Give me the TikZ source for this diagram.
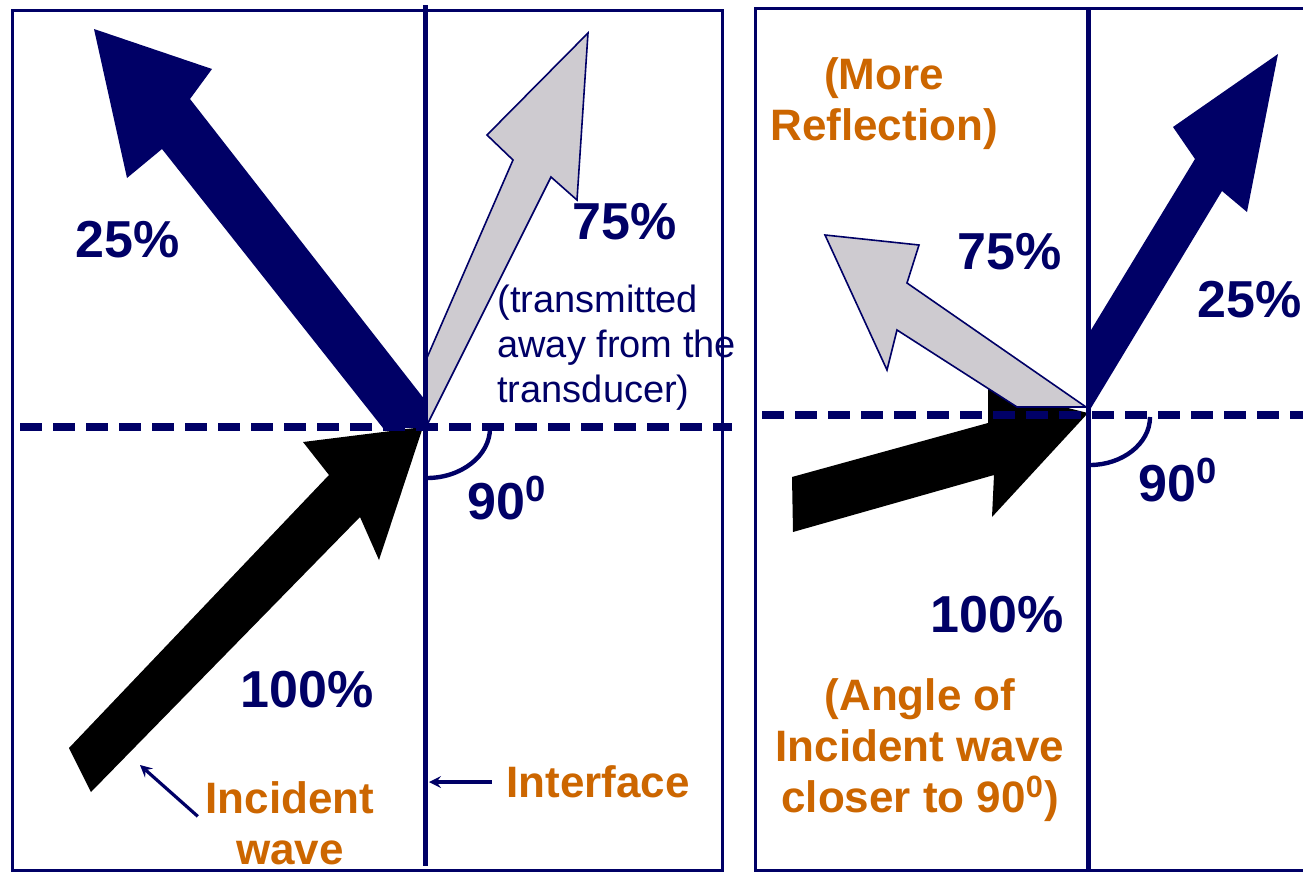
\documentclass[tikz,border=0pt]{standalone}
\usepackage{fontspec}
\setmainfont{Liberation Sans}
\usetikzlibrary{positioning}
\definecolor{wnavy}{RGB}{0,0,102}
\definecolor{worange}{RGB}{204,102,0}
\definecolor{wgray}{RGB}{206,203,208}

\begin{document}
\begin{tikzpicture}[
    x=0.5pt, y=-0.5pt,
 pct/.style = {
        font=\fontsize{26}{30}\selectfont\bfseries,
        text=wnavy, inner sep=0pt},
 note/.style = {
        font=\fontsize{22}{25.5}\selectfont\bfseries,
        text=worange, align=center, inner sep=0pt},
trans/.style = {
        font=\fontsize{19}{22.5}\selectfont,
        text=wnavy, align=left, inner sep=0pt},
panel/.style = {draw=wnavy, line width=1.5pt},
iface/.style = {draw=wnavy, line width=2.5pt},
normline/.style = {draw=wnavy, line width=4pt, dash pattern=on 11pt off 5.5pt},
anglearc/.style = {draw=wnavy, line width=2.2pt},
 wave/.style = {draw=wnavy, line width=0.8pt, fill=wgray},
  ptr/.style = {draw=wnavy, line width=1.6pt, -stealth}
                    ]
\useasboundingbox (0,0) rectangle (1303,873);
% the two panels
\draw[panel] (12,10) rectangle (722,870);
\draw[panel] (1320,8) -- (755,8) -- (755,870) -- (1320,870);
% left panel: incident, reflected and transmitted waves
\fill[black] (69,748) -- (329,475) -- (303,442) -- (423,427)
             -- (379,560) -- (360,517) -- (91,792) -- cycle;
\fill[wnavy] (383,428) -- (162,149) -- (127,178) -- (94,29)
             -- (212,69) -- (190,99) -- (425,400) -- (425,428) -- cycle;
\path[wave]  (426,427) -- (426,360) -- (513,160) -- (487,135)
             -- (588,33) -- (577,200) -- (551,177) -- cycle;
% right panel: incident wave closer to the normal
\fill[black] (792,477) -- (988,423) -- (988,388) -- (1088,413)
             -- (992,517) -- (994,475) -- (793,532) -- cycle;
\path[wave]  (1086,407) -- (1017,407) -- (897,330) -- (887,370)
             -- (825,235) -- (919,245) -- (907,283) -- cycle;
\fill[wnavy] (1088,413) -- (1088,335) -- (1195,159) -- (1173,127)
             -- (1278,54) -- (1247,212) -- (1222,191) -- cycle;
% the normals and the interfaces
\draw[normline] (20,427) -- (732,427);
\draw[normline] (762,415) -- (1303,415);
\draw[iface] (425,5) -- (425,866);
\draw[iface] (1088,8) -- (1088,870);
% the right angles
\draw[anglearc] (490,428) .. controls (490,456) and (461,478) .. (427,478);
\draw[anglearc] (1150,417) .. controls (1150,444) and (1122,465) .. (1090,465);
% the labels on the left
\node[pct] (p25l)  at (128,240) {25\%};
\node[pct] (p75l)  at (625,222) {75\%};
\node[trans, anchor=west] (ntrans) at (497,348)
                {(transmitted\\away from the\\transducer)};
\node[pct] (a90l)  at (507,498) {90\textsuperscript{0}};
\node[pct] (p100l) at (307,690) {100\%};
\node[note] (ninc) at (290,823) {Incident\\wave};
\node[note] (nifc) at (598,782) {Interface};
\coordinate (incend) at (140,765);
\coordinate (ifcend) at (429,782);
\draw[ptr, shorten <=5pt] (ninc.west) -- (incend);
\draw[ptr, shorten <=7pt] (nifc.west) -- (ifcend);
% the labels on the right
\node[note] (nmore)  at (884,104) {(More\\Reflection)};
\node[pct]  (p75r)   at (1010,252) {75\%};
\node[pct]  (p25r)   at (1250,300) {25\%};
\node[pct]  (a90r)   at (1178,480) {90\textsuperscript{0}};
\node[pct]  (p100r)  at (997,615) {100\%};
\node[note] (nangle) at (920,750)
                {(Angle of\\Incident wave\\closer to 90\textsuperscript{0})};
\end{tikzpicture}
\end{document}
